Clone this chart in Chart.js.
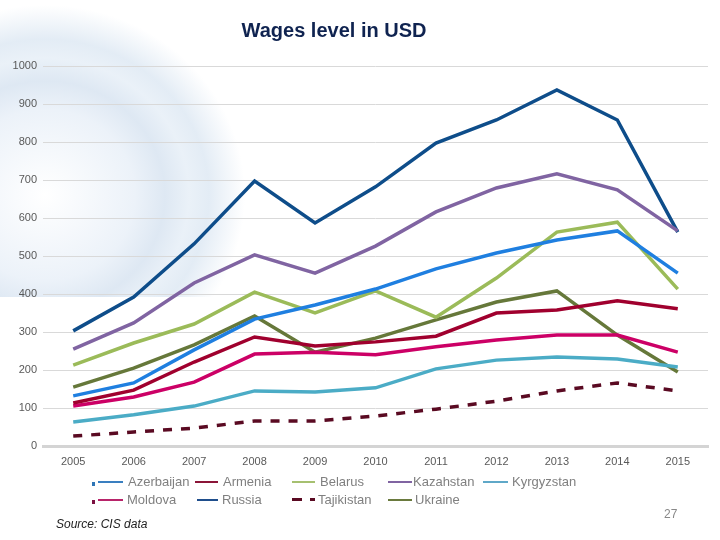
<!DOCTYPE html>
<html>
<head>
<meta charset="utf-8">
<script src="https://cdn.jsdelivr.net/npm/chart.js@4"></script>
<style>
  html, body { margin:0; padding:0; width:720px; height:540px; background:#fff; overflow:hidden; font-family:"Liberation Sans", Arial, sans-serif; }
  #bg { position:absolute; left:0; top:0; width:260px; height:297px;
        background: radial-gradient(ellipse 200px 190px at 45px 195px, rgba(255,255,255,1) 0px, rgba(236,242,249,1) 45%, rgba(222,232,243,1) 60%, rgba(234,241,248,1) 72%, rgba(224,234,244,0.9) 82%, rgba(255,255,255,0) 100%); }
  #wrap { position:absolute; left:0; top:0; width:720px; height:540px; }
  #title { position:absolute; left:0; width:668px; top:19px; text-align:center; font-weight:bold; font-size:20px; color:#0F2350; }
  .leg { position:absolute; font-size:13px; color:#808080; white-space:nowrap; }
  .legline { position:absolute; height:0; }
  #src { position:absolute; left:56px; top:517px; font-size:12px; font-style:italic; color:#222; }
  #pg { position:absolute; left:664px; top:507px; font-size:12px; color:#888; }
  .sq { position:absolute; width:3px; height:4px; }
</style>
</head>
<body>
<div id="bg"></div>
<div id="wrap"><canvas id="c" width="720" height="540"></canvas></div>
<div id="title">Wages level in USD</div>
<div id="legend"></div>
<div class="sq" style="left:92px;top:482px;background:#2E75B6"></div>
<div class="sq" style="left:92px;top:500px;background:#7B1040"></div>
<div id="src">Source: CIS data</div>
<div id="pg">27</div>
<script>
const years = ['2005','2006','2007','2008','2009','2010','2011','2012','2013','2014','2015'];
const yTicks = [0,100,200,300,400,500,600,700,800,900,1000];

const seriesNames = ['Azerbaijan','Armenia','Belarus','Kazahstan','Kyrgyzstan','Moldova','Russia','Tajikistan','Ukraine'];

const azerbaijan = [132,166,253,334,371,413,466,508,542,566,455];
const armenia    = [113,147,221,287,263,274,289,350,358,382,361];
const belarus    = [213,271,321,405,350,408,339,442,563,589,413];
const kazakhstan = [255,324,429,503,455,526,616,679,716,674,566];
const kyrgyzstan = [63,82,105,145,142,153,203,226,234,229,208];
const moldova    = [105,129,168,242,247,240,261,279,292,292,247];
const russia     = [303,392,532,697,587,682,797,858,937,858,563];
const tajikistan = [26,37,47,66,66,79,97,118,145,166,145];
const ukraine    = [155,205,266,342,247,284,332,379,408,292,195];

const seriesValues = [azerbaijan, armenia, belarus, kazakhstan, kyrgyzstan, moldova, russia, tajikistan, ukraine];
const colors = ['#1F7FE0','#A0002E','#9BBB59','#8064A2','#4BACC6','#CC0066','#0E4D8A','#5A0A22','#66783A'];
const legColors = ['#3A7FC0','#8B1538','#A6C070','#8064A2','#5FA8C8','#B8246A','#1F4E8C','#5A0A22','#6A7A3E'];

const datasets = seriesNames.map((n,i)=>({
  label:n,
  data: seriesValues[i],
  borderColor: colors[i],
  backgroundColor: colors[i],
  borderWidth: 3.5,
  borderDash: n==='Tajikistan' ? [9,9] : [],
  pointRadius: 0,
  tension: 0,
  fill: false
}));

new Chart(document.getElementById('c'), {
  type:'line',
  data:{ labels: years, datasets },
  options:{
    responsive:false,
    animation:false,
    layout:{ padding:{ top:66, bottom:64, left:0, right:12 } },
    plugins:{ legend:{display:false}, title:{display:false}, tooltip:{enabled:false} },
    scales:{
      x:{
        offset:true,
        grid:{ display:false, drawTicks:false },
        border:{ display:true, color:'#D4D4D4', width:3 },
        ticks:{ color:'#595959', font:{ family:'"Liberation Sans", Arial', size:11 }, padding:9, maxRotation:0 },
        afterFit: s => { s.height = 30; }
      },
      y:{
        min:0, max:1000,
        afterBuildTicks: s => { s.ticks = yTicks.map(v=>({value:v})); },
        grid:{ color:'#D9D9D9', lineWidth:1, drawTicks:false },
        border:{ display:false },
        ticks:{ color:'#595959', font:{ family:'"Liberation Sans", Arial', size:11 }, padding:6,
                callback: v => String(v) },
        afterFit: s => { s.width = 43; }
      }
    }
  }
});

// legend (HTML): [lineStartX, rowCenterY, lineWidth, textX]
const legPos = [
  [98,482,25,128],[195,482,23,223],[292,482,23,320],[388,482,24,413],[483,482,25,512],
  [98,500,25,127],[197,500,21,222],[292,500,23,318],[388,500,24,415]
];
const legEl = document.getElementById('legend');
seriesNames.forEach((n,i)=>{
  const [x,y,w,tx] = legPos[i];
  const ln = document.createElement('div');
  ln.className='legline';
  ln.style.left = x+'px'; ln.style.top = (y-1)+'px'; ln.style.width = w+'px';
  if(n==='Tajikistan'){
    ln.style.width='0';
    ln.innerHTML = '<div style="position:absolute;left:0;top:-1px;width:10px;height:3px;background:'+legColors[i]+'"></div><div style="position:absolute;left:18px;top:-1px;width:5px;height:3px;background:'+legColors[i]+'"></div>';
  } else {
    ln.style.borderTop = '2px solid ' + legColors[i];
  }
  legEl.appendChild(ln);
  const t = document.createElement('div');
  t.className='leg';
  t.textContent = n;
  t.style.left = tx+'px';
  t.style.top = (y-8)+'px';
  legEl.appendChild(t);
});
</script>
</body>
</html>
